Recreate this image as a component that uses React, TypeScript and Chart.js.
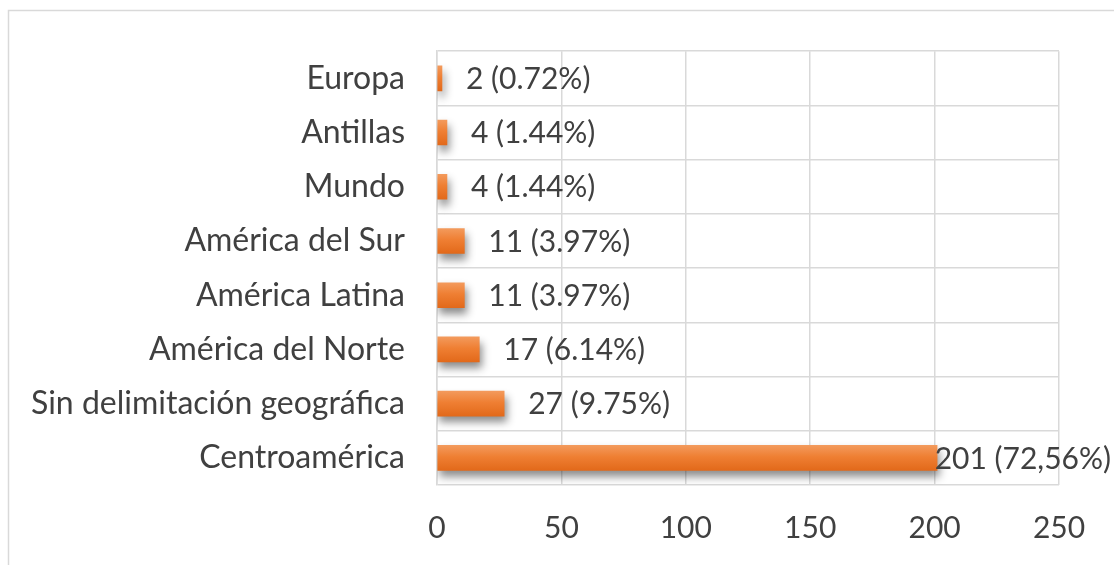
import React, { useEffect, useRef } from "react";
import { Chart, registerables } from "chart.js";

Chart.register(...registerables);

const categories = [
  "Europa",
  "Antillas",
  "Mundo",
  "América del Sur",
  "América Latina",
  "América del Norte",
  "Sin delimitación geográfica",
  "Centroamérica",
];
const values = [2, 4, 4, 11, 11, 17, 27, 201];
const valueLabels = [
  "2 (0.72%)",
  "4 (1.44%)",
  "4 (1.44%)",
  "11 (3.97%)",
  "11 (3.97%)",
  "17 (6.14%)",
  "27 (9.75%)",
  "201 (72,56%)",
];
const xTicks = [0, 50, 100, 150, 200, 250];

const FONT = "Lato";
const TEXT = "#404040";
const GRID = "#d9d9d9";
const W = 1114;
const H = 565;

const framePlugin = {
  id: "frame",
  beforeDraw(chart: any) {
    const ctx = chart.ctx;
    ctx.save();
    ctx.strokeStyle = GRID;
    ctx.lineWidth = 1.5;
    ctx.beginPath();
    ctx.moveTo(8.5, H);
    ctx.lineTo(8.5, 10.5);
    ctx.lineTo(W, 10.5);
    ctx.stroke();
    ctx.restore();
  },
};

const shadowPlugin = {
  id: "barShadow",
  beforeDatasetsDraw(chart: any) {
    const ctx = chart.ctx;
    ctx.save();
    ctx.shadowColor = "rgba(0,0,0,0.45)";
    ctx.shadowBlur = 8;
    ctx.shadowOffsetX = 2;
    ctx.shadowOffsetY = 6;
  },
  afterDatasetsDraw(chart: any) {
    chart.ctx.restore();
  },
};

const labelPlugin = {
  id: "valueLabels",
  afterDatasetsDraw(chart: any) {
    const ctx = chart.ctx;
    const meta = chart.getDatasetMeta(0);
    ctx.save();
    ctx.font = `30px ${FONT}`;
    ctx.fillStyle = TEXT;
    ctx.textBaseline = "middle";
    ctx.textAlign = "left";
    meta.data.forEach((bar: any, i: number) => {
      const text = valueLabels[i];
      const tw = ctx.measureText(text).width;
      let x = bar.x + 24;
      if (x + tw > W - 3) x = W - 3 - tw;
      ctx.fillText(text, x, bar.y + 1);
    });
    ctx.restore();
  },
};

export default function App() {
  const ref = useRef<HTMLCanvasElement>(null);
  useEffect(() => {
    if (!ref.current) return;
    const chart = new Chart(ref.current, {
      type: "bar",
      data: {
        labels: categories,
        datasets: [
          {
            data: values,
            barThickness: 25,
            borderWidth: 0,
            backgroundColor: (c: any) => {
              const ch = c.chart;
              const ys = ch.scales && ch.scales.y;
              if (!ys || c.dataIndex === undefined) return "#ED7D31";
              const cy = ys.getPixelForValue(c.dataIndex);
              if (!Number.isFinite(cy)) return "#ED7D31";
              const g = ch.ctx.createLinearGradient(0, cy - 12.5, 0, cy + 12.5);
              g.addColorStop(0, "#F39A5C");
              g.addColorStop(0.45, "#EF7F33");
              g.addColorStop(1, "#E2691A");
              return g;
            },
          },
        ],
      },
      options: {
        indexAxis: "y",
        responsive: false,
        animation: false,
        layout: { padding: { top: 50, right: 55, left: 0, bottom: 0 } },
        plugins: { legend: { display: false }, tooltip: { enabled: false } },
        scales: {
          x: {
            min: 0,
            max: 250,
            afterBuildTicks: (s: any) => {
              s.ticks = xTicks.map((v) => ({ value: v }));
            },
            afterFit: (s: any) => {
              s.height = 80;
            },
            grid: { color: GRID, lineWidth: 1.5, drawTicks: false },
            border: { display: false },
            ticks: {
              color: TEXT,
              font: { family: FONT, size: 30 },
              padding: 25,
            },
          },
          y: {
            afterFit: (s: any) => {
              s.width = 437;
            },
            grid: { color: GRID, lineWidth: 1.5, drawTicks: false, offset: true },
            border: { color: GRID, width: 1.5 },
            ticks: {
              color: TEXT,
              font: { family: FONT, size: 32 },
              padding: 32,
            },
          },
        },
      },
      plugins: [framePlugin, shadowPlugin, labelPlugin],
    });
    return () => chart.destroy();
  }, []);
  return (
    <div style={{ position: "fixed", left: 0, top: 0, width: W, height: H, background: "#fff" }}>
      <canvas ref={ref} width={W} height={H} style={{ display: "block" }} />
    </div>
  );
}
